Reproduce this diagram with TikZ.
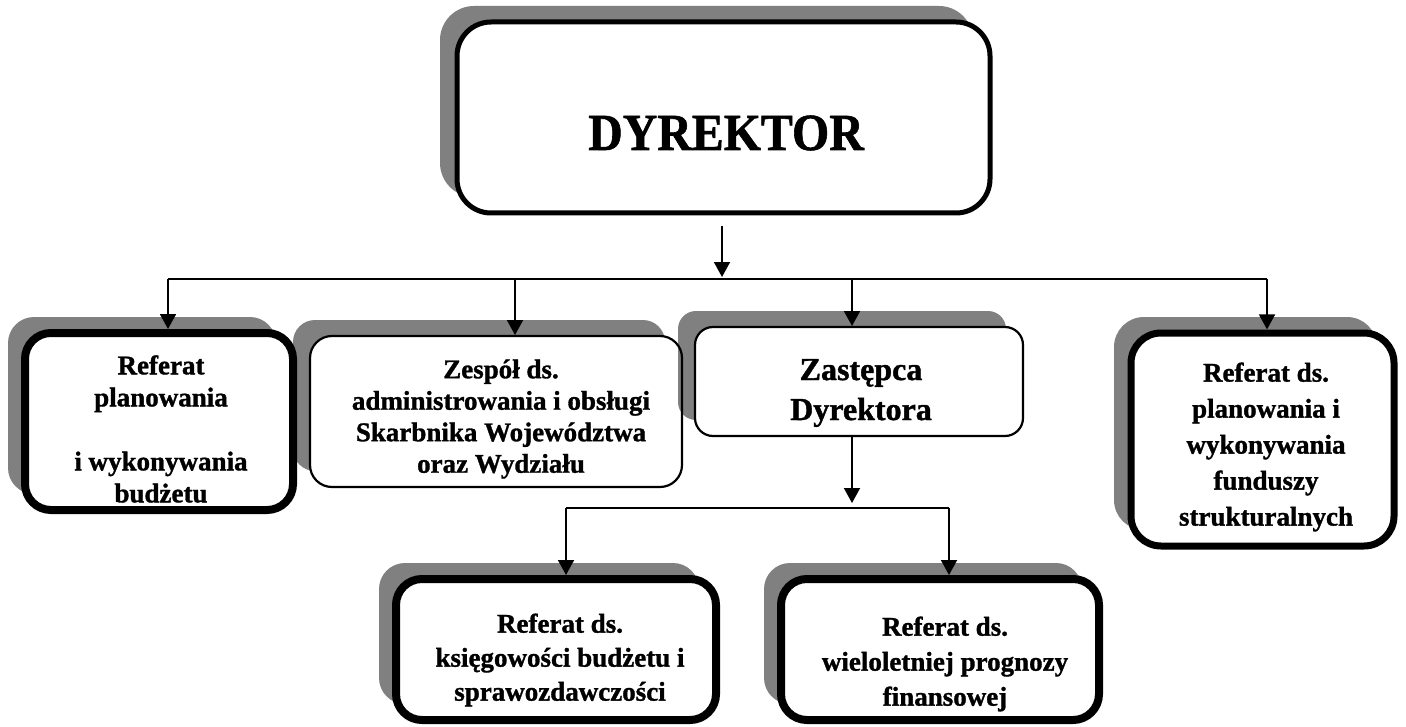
\documentclass[tikz,border=0pt]{standalone}
\usepackage{fontspec}
\usepackage{graphicx}
\setmainfont{Liberation Serif}
\newfontfamily\heavyfont{Liberation Serif Bold}[FakeBold=1.2]
\usetikzlibrary{arrows.meta,calc,shadows}
\definecolor{shade}{HTML}{808080}
\tikzset{
  orgbox/.style={rectangle, fill=white, inner sep=0pt, outer sep=0pt,
    drop shadow={opacity=1, fill=shade, shadow xshift=-8.5pt, shadow yshift=8pt}},
  orgtext/.style={inner sep=0pt, align=center, font=\heavyfont\fontsize{13.5}{16.5}\selectfont},
  conn/.style={line width=0.9pt},
  arr/.style={line width=0.9pt, -{Triangle[width=8pt,length=7.5pt]}}
}
\begin{document}
\begin{tikzpicture}[x=0.5pt,y=-0.5pt]
\useasboundingbox (0,0) rectangle (1406,727);

% boxes (fill + shadow)
\node[orgbox, rounded corners=17pt, minimum width=266.5pt, minimum height=95.5pt] (d) at (723.5,117.5) {};
\node[orgbox, rounded corners=13pt, minimum width=134pt, minimum height=88.5pt] (b1) at (159,421.5) {};
\node[orgbox, rounded corners=11pt, minimum width=186pt, minimum height=75.5pt] (b2) at (496,411.5) {};
\node[orgbox, rounded corners=9pt, minimum width=164pt, minimum height=54.5pt] (b3) at (859,381.5) {};
\node[orgbox, rounded corners=15pt, minimum width=131.5pt, minimum height=106.5pt] (b4) at (1262.5,439.5) {};
\node[orgbox, rounded corners=13pt, minimum width=160pt, minimum height=70.5pt] (b5) at (556,649.5) {};
\node[orgbox, rounded corners=13pt, minimum width=159pt, minimum height=70.5pt] (b6) at (940,649.5) {};

% texts
\node[inner sep=0pt, font=\heavyfont\fontsize{26}{30}\selectfont] (td) at (726,133) {\scalebox{0.92}[1]{DYREKTOR}};
\node[orgtext, font=\heavyfont\fontsize{13.5}{16}\selectfont] (t1) at (161,429) {Referat\\planowania\\[16pt]i wykonywania\\budżetu};
\node[orgtext, font=\heavyfont\fontsize{13.5}{15.75}\selectfont] (t2) at (501,419) {Zespół ds.\\administrowania i obsługi\\Skarbnika Województwa\\oraz Wydziału};
\node[orgtext, font=\heavyfont\fontsize{16}{20}\selectfont] (t3) at (861,393) {Zastępca\\Dyrektora};
\node[orgtext, font=\heavyfont\fontsize{13.5}{18}\selectfont] (t4) at (1266,447) {Referat ds.\\planowania i\\wykonywania\\funduszy\\strukturalnych};
\node[orgtext, font=\heavyfont\fontsize{13.5}{17}\selectfont] (t5) at (560,660) {Referat ds.\\księgowości budżetu i\\sprawozdawczości};
\node[orgtext, font=\heavyfont\fontsize{13.5}{17.5}\selectfont] (t6) at (945,664) {Referat ds.\\wieloletniej prognozy\\finansowej};

% borders on top
\draw[line width=2.5pt, rounded corners=17pt] (d.north west) rectangle (d.south east);
\draw[line width=4pt, rounded corners=13pt] (b1.north west) rectangle (b1.south east);
\draw[line width=1.1pt, rounded corners=11pt] (b2.north west) rectangle (b2.south east);
\draw[line width=1.1pt, rounded corners=9pt] (b3.north west) rectangle (b3.south east);
\draw[line width=3.5pt, rounded corners=15pt] (b4.north west) rectangle (b4.south east);
\draw[line width=4pt, rounded corners=13pt] (b5.north west) rectangle (b5.south east);
\draw[line width=4pt, rounded corners=13pt] (b6.north west) rectangle (b6.south east);

% connectors
\coordinate (top) at (722,226);
\coordinate (h1) at (168,279);
\coordinate (h2) at (515,279);
\coordinate (h3) at (852,279);
\coordinate (h4) at (1267,279);
\coordinate (v3) at (852,508);
\coordinate (h5) at (566,508);
\coordinate (h6) at (949,508);

\draw[arr, shorten >=1pt] (top) -- (top |- h1);
\draw[conn] (h1) -- (h4);
\draw[arr, shorten >=2pt] (h1) -- (h1 |- b1.north);
\draw[arr, shorten >=0.5pt] (h2) -- (h2 |- b2.north);
\draw[arr, shorten >=0.5pt] (h3) -- (h3 |- b3.north);
\draw[arr, shorten >=1.8pt] (h4) -- (h4 |- b4.north);

\draw[arr, shorten >=2.5pt] (v3 |- b3.south) -- (v3);
\draw[conn] (h5) -- (h6);
\draw[arr, shorten >=2pt] (h5) -- (h5 |- b5.north);
\draw[arr, shorten >=2pt] (h6) -- (h6 |- b6.north);
\end{tikzpicture}
\end{document}
